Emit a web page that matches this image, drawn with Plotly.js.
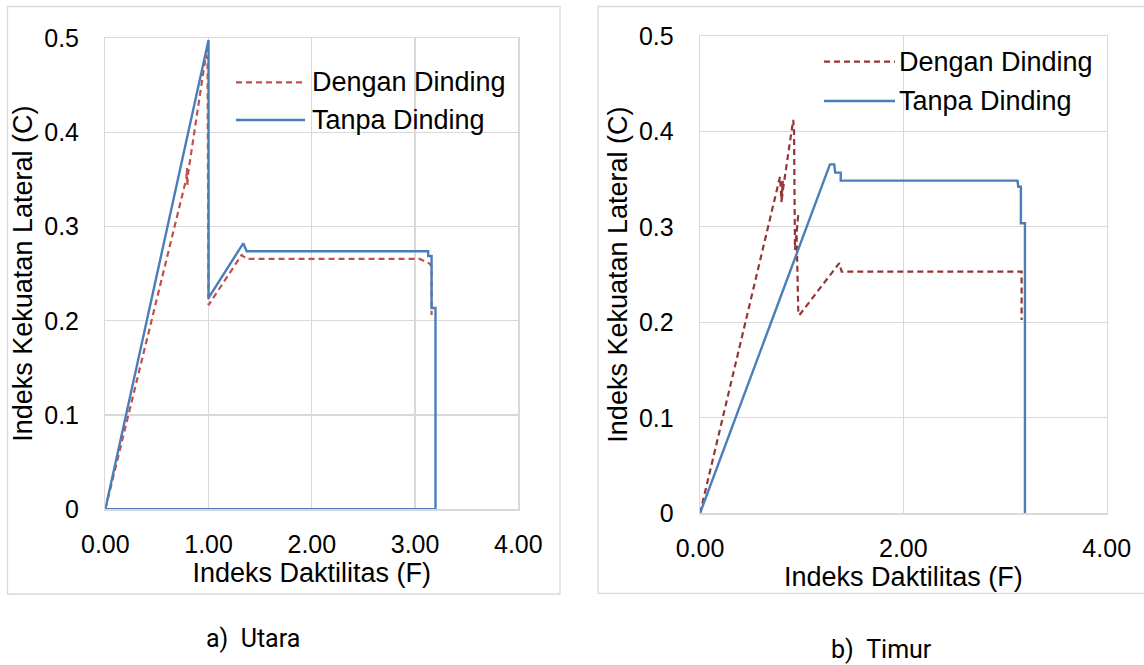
<!DOCTYPE html>
<html>
<head>
<meta charset="utf-8">
<script src="https://cdn.plot.ly/plotly-3.0.1.min.js"></script>
<style>html,body{margin:0;padding:0;background:#fff;}#chart{width:1144px;height:665px;}</style>
</head>
<body>
<div id="chart"></div>
<script>
// ---- Data: a) Utara ----
const seriesNames = ['Dengan Dinding', 'Tanpa Dinding'];
const utaraDenganX = [0, 0.785, 0.79, 0.795, 0.80, 0.975, 0.99, 1.0, 1.32, 1.37, 3.045, 3.094, 3.137, 3.16, 3.16];
const utaraDenganY = [0, 0.351, 0.362, 0.343, 0.355, 0.482, 0.478, 0.2167, 0.2698, 0.2656, 0.2656, 0.2627, 0.261, 0.258, 0.2062];
const utaraTanpaX = [0, 1.0, 1.0, 1.336, 1.369, 3.127, 3.127, 3.16, 3.16, 3.198, 3.198, 0];
const utaraTanpaY = [0, 0.498, 0.2242, 0.2822, 0.2738, 0.2738, 0.2687, 0.2687, 0.2135, 0.2135, 0, 0];

// ---- Data: b) Timur ----
const timurDenganX = [0, 0.787, 0.80, 0.815, 0.80, 0.82, 0.917, 0.925, 0.934, 0.967, 0.95, 0.967, 0.977, 1.37, 1.393, 3.163, 3.163];
const timurDenganY = [0, 0.3525, 0.33, 0.348, 0.325, 0.342, 0.412, 0.40, 0.2757, 0.314, 0.293, 0.209, 0.2075, 0.262, 0.253, 0.253, 0.2024];
const timurTanpaX = [0, 1.278, 1.32, 1.33, 1.384, 1.384, 3.123, 3.13, 3.156, 3.156, 3.196, 3.196];
const timurTanpaY = [0, 0.3654, 0.3654, 0.3567, 0.3567, 0.3483, 0.3483, 0.342, 0.342, 0.3037, 0.3037, 0];

const xTitle = 'Indeks Daktilitas (F)';
const yTitle = 'Indeks Kekuatan Lateral (C)';
const captions = ['a)\u00A0\u00A0Utara', 'b)\u00A0\u00A0Timur'];

// ---- Layout helpers ----
const W = 1144, H = 665;
const px = v => v / W;
const py = v => 1 - v / H;
const FONT = 'Liberation Sans, Arial, sans-serif';
const GRID = '#D9D9D9';
const BLUE = '#4A7EBB';
const RED1 = '#C0504D';
const RED2 = '#943634';
const TITLE_SIZE = 27;

const traces = [
  {x: utaraDenganX, y: utaraDenganY, xaxis: 'x', yaxis: 'y', mode: 'lines', name: seriesNames[0],
   line: {color: RED1, width: 2.2, dash: '6px,4px'}, cliponaxis: false},
  {x: utaraTanpaX, y: utaraTanpaY, xaxis: 'x', yaxis: 'y', mode: 'lines', name: seriesNames[1],
   line: {color: BLUE, width: 2.4}, cliponaxis: false},
  {x: timurDenganX, y: timurDenganY, xaxis: 'x2', yaxis: 'y2', mode: 'lines', name: seriesNames[0],
   line: {color: RED2, width: 2.2, dash: '6px,4px'}, cliponaxis: false},
  {x: timurTanpaX, y: timurTanpaY, xaxis: 'x2', yaxis: 'y2', mode: 'lines', name: seriesNames[1],
   line: {color: BLUE, width: 2.4}, cliponaxis: false}
];

function xAxis(domain, anchor, dtick) {
  return {
    domain: domain, anchor: anchor, range: [0, 4], dtick: dtick, tick0: 0, tickformat: '.2f',
    showgrid: true, gridcolor: GRID, gridwidth: 1.3, showline: true, linecolor: GRID, linewidth: 1.3,
    mirror: true, zeroline: false, ticks: '', ticklabelstandoff: 12,
    tickfont: {family: FONT, size: 25, color: '#000'},
    title: {text: xTitle, font: {family: FONT, size: TITLE_SIZE, color: '#000'}, standoff: 2},
    fixedrange: true
  };
}
function yAxis(domain, anchor) {
  return {
    domain: domain, anchor: anchor, range: [0, 0.5], dtick: 0.1, tick0: 0,
    showgrid: true, gridcolor: GRID, gridwidth: 1.3, showline: true, linecolor: GRID, linewidth: 1.3,
    mirror: true, zeroline: false, ticks: '', ticklabelstandoff: 20,
    tickfont: {family: FONT, size: 25, color: '#000'},
    title: {text: yTitle, font: {family: FONT, size: TITLE_SIZE, color: '#000'}, standoff: 3},
    fixedrange: true
  };
}

function legendItems(x0, x1, xt, yRows, redColor) {
  const shapes = [], ann = [];
  const colors = [redColor, BLUE];
  const dashes = ['6px,4px', 'solid'];
  for (let i = 0; i < 2; i++) {
    shapes.push({type: 'line', xref: 'paper', yref: 'paper', x0: px(x0), x1: px(x1), y0: py(yRows[i]), y1: py(yRows[i]),
      line: {color: colors[i], width: i === 0 ? 2.2 : 2.4, dash: dashes[i]}});
    ann.push({xref: 'paper', yref: 'paper', x: px(xt), y: py(yRows[i]), xanchor: 'left', yanchor: 'middle',
      text: seriesNames[i], showarrow: false, font: {family: FONT, size: TITLE_SIZE, color: '#000'}});
  }
  return {shapes, ann};
}

const lg1 = legendItems(236, 305, 310, [82.3, 120], RED1);
const lg2 = legendItems(824, 895, 897, [61.7, 101], RED2);

const frameShapes = [
  {type: 'rect', xref: 'paper', yref: 'paper', x0: px(7.5), x1: px(560), y0: py(594), y1: py(6.5),
   line: {color: GRID, width: 1.3}, fillcolor: 'rgba(0,0,0,0)', layer: 'below'},
  {type: 'rect', xref: 'paper', yref: 'paper', x0: px(598), x1: px(1160), y0: py(593.3), y1: py(6.5),
   line: {color: GRID, width: 1.3}, fillcolor: 'rgba(0,0,0,0)', layer: 'below'}
];

const CAP_FONT = {family: 'Liberation Sans Narrow, Roboto, sans-serif', size: 25, color: '#000'};
const captionAnn = [
  {xref: 'paper', yref: 'paper', x: px(253), y: py(638), xanchor: 'center', yanchor: 'middle', showarrow: false,
   text: captions[0], font: CAP_FONT, borderpad: 0},
  {xref: 'paper', yref: 'paper', x: px(881), y: py(649), xanchor: 'center', yanchor: 'middle', showarrow: false,
   text: captions[1], font: CAP_FONT, borderpad: 0}
];

const layout = {
  width: W, height: H,
  margin: {l: 0, r: 0, t: 0, b: 0},
  paper_bgcolor: '#fff', plot_bgcolor: '#fff',
  showlegend: false,
  font: {family: FONT, color: '#000'},
  xaxis: xAxis([px(105.3), px(518.3)], 'y', 1),
  yaxis: yAxis([py(509.3), py(38)], 'x'),
  xaxis2: xAxis([px(700), px(1106.7)], 'y2', 2),
  yaxis2: yAxis([py(513.3), py(35.8)], 'x2'),
  shapes: frameShapes.concat(lg1.shapes, lg2.shapes),
  annotations: lg1.ann.concat(lg2.ann, captionAnn)
};

Plotly.newPlot('chart', traces, layout, {staticPlot: true, displayModeBar: false});
</script>
</body>
</html>
